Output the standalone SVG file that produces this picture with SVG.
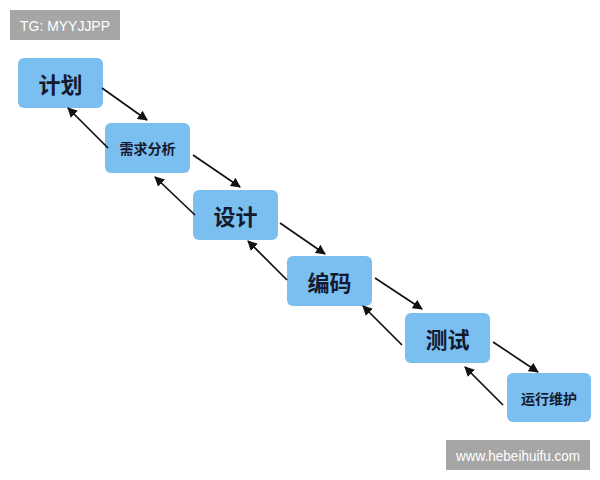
<svg xmlns="http://www.w3.org/2000/svg" width="600" height="480" viewBox="0 0 600 480">
<defs>
<marker id="ah" viewBox="0 0 10 10" refX="9" refY="5" markerWidth="10" markerHeight="10" markerUnits="userSpaceOnUse" orient="auto">
<path d="M0,0 L10,5 L0,10 z" fill="#111"/>
</marker>
<style>
.box{fill:#7bbff0;}
.big{font-family:"Noto Sans CJK SC","Noto Sans",sans-serif;font-size:22px;font-weight:bold;fill:#141a2e;text-anchor:middle;dominant-baseline:central;}
.small{font-family:"Noto Sans CJK SC","Noto Sans",sans-serif;font-size:14px;font-weight:bold;fill:#141a2e;text-anchor:middle;dominant-baseline:central;}
.wm{fill:#a6a6a6;}
.wmt{font-family:"Liberation Sans",Arial,sans-serif;font-size:14px;fill:#fff;dominant-baseline:central;}
.c line{stroke:#111;stroke-width:1.7;marker-end:url(#ah);}
</style>
</defs>
<rect width="600" height="480" fill="#fff"/>
<g id="wm-tg"><rect class="wm" x="10" y="10" width="110" height="30"/><text class="wmt" x="20" y="25.5" textLength="90" lengthAdjust="spacingAndGlyphs">TG: MYYJJPP</text></g>
<g id="wm-web"><rect class="wm" x="446" y="440" width="144" height="30"/><text class="wmt" x="456" y="455.5" textLength="124" lengthAdjust="spacingAndGlyphs">www.hebeihuifu.com</text></g>
<g id="n1"><rect class="box" x="18" y="58" width="85" height="50" rx="6"/><text class="big" x="60.5" y="83">计划</text></g>
<g id="n2"><rect class="box" x="105" y="123" width="85" height="50" rx="6"/><text class="small" x="147.5" y="148">需求分析</text></g>
<g id="n3"><rect class="box" x="193" y="190" width="85" height="50" rx="6"/><text class="big" x="235.5" y="215">设计</text></g>
<g id="n4"><rect class="box" x="287" y="256" width="85" height="50" rx="6"/><text class="big" x="329.5" y="281">编码</text></g>
<g id="n5"><rect class="box" x="405" y="313" width="85" height="50" rx="6"/><text class="big" x="447.5" y="338">测试</text></g>
<g id="n6"><rect class="box" x="507" y="373" width="84" height="49" rx="6"/><text class="small" x="549" y="397.5">运行维护</text></g>
<g class="c" id="connectors">
<line x1="102" y1="88" x2="147" y2="120"/>
<line x1="108" y1="148" x2="68" y2="108"/>
<line x1="193" y1="155" x2="240" y2="187"/>
<line x1="195" y1="215" x2="155" y2="177"/>
<line x1="280" y1="223" x2="325" y2="254"/>
<line x1="287" y1="280" x2="248" y2="241"/>
<line x1="375" y1="278" x2="422" y2="309"/>
<line x1="402" y1="345" x2="363" y2="306"/>
<line x1="493" y1="342" x2="538" y2="372"/>
<line x1="503" y1="405" x2="465" y2="367"/>
</g>
</svg>
